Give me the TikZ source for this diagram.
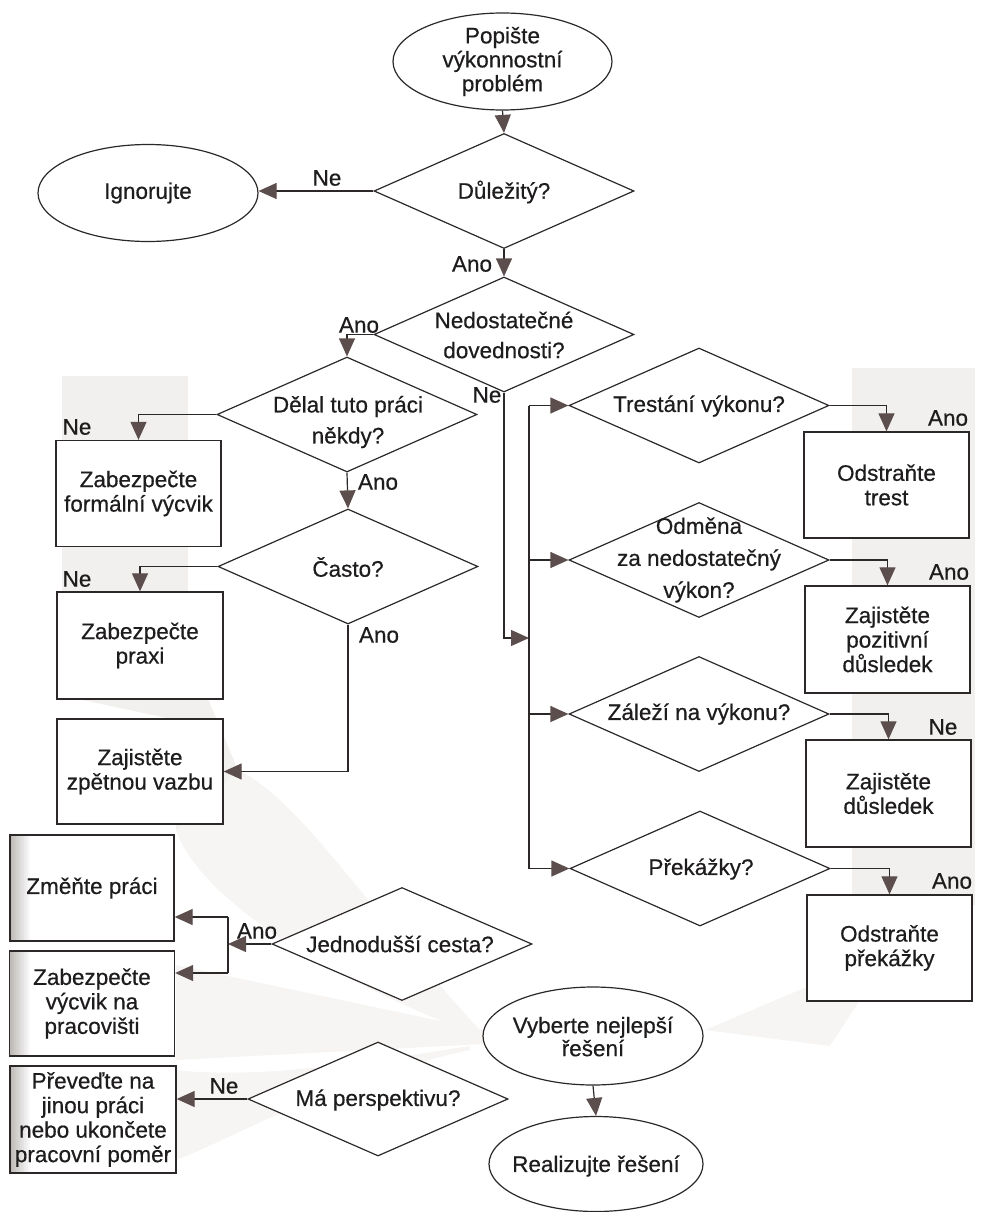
\documentclass[tikz,border=0pt]{standalone}
\usepackage{fontspec}
\setmainfont{Liberation Sans}[BoldFont=Liberation Sans, BoldFeatures={FakeBold=0.5}]
\usetikzlibrary{shapes.geometric,arrows.meta}
\definecolor{ln}{RGB}{45,40,40}
\definecolor{tx}{RGB}{30,28,28}
\definecolor{ah}{RGB}{92,78,76}
\definecolor{bg}{RGB}{241,240,238}
\definecolor{bgl}{RGB}{246,245,243}
\definecolor{gut}{RGB}{190,186,184}
\begin{document}
\begin{tikzpicture}[x=1pt,y=-1pt,
  every node/.style={text=tx},
  dia/.style={draw=ln, fill=white, line width=1.2pt, diamond, inner sep=0pt, minimum width=260pt, minimum height=115pt},
  ell/.style={draw=ln, fill=white, line width=1.2pt, ellipse, inner sep=0pt},
  box/.style={draw=ln, fill=white, line width=1.3pt, rectangle, inner sep=0pt, align=center,
              minimum width=165pt, minimum height=106pt, font=\fontsize{22.5}{24.5}\selectfont\bfseries},
  gutter/.style={path picture={\foreach \i [evaluate=\i as \p using int(100-10*\i)] in {0,...,9}
      {\fill[gut!\p!white] ([xshift={2*\i*1pt}]path picture bounding box.south west) rectangle ([xshift={2*\i*1pt+2pt}]path picture bounding box.north west);}}},
  etxt/.style={align=center, inner sep=0pt, font=\fontsize{22.5}{24}\selectfont\bfseries},
  dtxt/.style={align=center, inner sep=0pt, font=\fontsize{22.5}{31}\selectfont\bfseries},
  lbl/.style={inner sep=0pt, font=\fontsize{22.5}{24}\selectfont\bfseries},
  con/.style={draw=ln, line width=1.2pt},
  arr/.style={con, -{Triangle[length=18pt,width=16pt,fill=ah,color=ah]}},
  shadebg/.style={fill=bg, draw=none},
  shadefan/.style={fill=bgl, draw=none},
]
\useasboundingbox (0,0) rectangle (985,1212);

% ---------- faint background ----------
\path[shadebg] (62,376) rectangle (188,594);
\path[shadebg] (78,699) -- (208,699) -- (238,770) -- (238,830) -- (176,830) -- (176,720) -- cycle;
\path[shadefan] (480,1030) .. controls (360,900) and (300,800) .. (238,770) -- (176,830) .. controls (200,900) and (330,980) .. (480,1036) -- cycle;
\path[shadefan] (483,1030) -- (176,965) -- (176,1060) -- (483,1044) -- cycle;
\path[shadefan] (470,1046) .. controls (380,1060) and (260,1080) .. (176,1070) -- (176,1160) .. controls (230,1140) and (330,1080) .. (470,1050) -- cycle;
\path[shadebg] (852,368) rectangle (975,905);
\path[shadefan] (870,960) -- (705,1030) -- (830,1046) -- (860,1000) -- cycle;

% ---------- shapes ----------
\node[ell, minimum width=219pt, minimum height=97pt] (pop) at (502.5,61.5) {};
\node[etxt] (popt) at (502.5,61.5) {Popište\\výkonnostní\\problém};

\node[dia] (dul) at (504,191) {};
\node[dtxt] (dult) at (504,192) {Důležitý?};

\node[ell, minimum width=220pt, minimum height=97pt] (ign) at (148,193) {};
\node[etxt] (ignt) at (148,193) {Ignorujte};

\node[dia] (ned) at (504,334.5) {};
\node[dtxt, font=\fontsize{22.5}{30}\selectfont\bfseries] (nedt) at (504,335) {Nedostatečné\\dovednosti?};

\node[dia] (del) at (347,414.5) {};
\node[dtxt] (delt) at (348,422) {Dělal tuto práci\\někdy?};

\node[box] (zfv) at (138.5,493.5) {Zabezpečte\\formální výcvik};

\node[dia] (cas) at (348,566.5) {};
\node[dtxt] (cast) at (348,567) {Často?};

\node[box, minimum width=166pt, minimum height=107pt] (zp) at (140,645.5) {Zabezpečte\\praxi};
\node[box, minimum width=166pt, minimum height=105pt] (zzv) at (140,771.5) {Zajistěte\\zpětnou vazbu};

\node[dia] (tre) at (699,405.5) {};
\node[dtxt] (tret) at (699,406) {Trestání výkonu?};
\node[box] (odt) at (886.5,485) {Odstraňte\\trest};

\node[dia] (odm) at (699,560) {};
\node[dtxt, font=\fontsize{22.5}{32}\selectfont\bfseries] (odmt) at (699,560) {Odměna\\za nedostatečný\\výkon?};
\node[box, minimum height=107pt] (zpd) at (887.5,639.5) {Zajistěte\\pozitivní\\důsledek};

\node[dia] (zal) at (699,714) {};
\node[dtxt] (zalt) at (699,714) {Záleží na výkonu?};
\node[box, minimum height=107pt] (zd) at (888.5,793.5) {Zajistěte\\důsledek};

\node[dia] (pre) at (700,868.5) {};
\node[dtxt] (pret) at (701,869) {Překážky?};
\node[box] (opk) at (889.5,948) {Odstraňte\\překážky};

\node[box, gutter, minimum width=164pt] (zmp) at (92,888) {Změňte práci};
\node[box, gutter, minimum height=105pt] (zvp) at (92,1003.5) {Zabezpečte\\výcvik na\\pracovišti};
\node[box, gutter, minimum width=166pt, minimum height=107pt] (prv) at (93,1119.5) {Převeďte na\\jinou práci\\nebo ukončete\\pracovní poměr};

\node[dia, minimum height=113pt] (jed) at (402,944) {};
\node[dtxt] (jedt) at (400,944) {Jednodušší cesta?};

\node[dia, minimum height=114pt] (ma) at (378,1099) {};
\node[dtxt] (mat) at (378,1100) {Má perspektivu?};

\node[ell, minimum width=220pt, minimum height=98pt] (vyb) at (593,1036) {};
\node[etxt, font=\fontsize{22.5}{23}\selectfont\bfseries] (vybt) at (593,1036.5) {Vyberte nejlepší\\řešení};
\node[ell, minimum width=214pt, minimum height=95pt] (real) at (596,1164) {};
\node[etxt] (realt) at (596,1166) {Realizujte řešení};

% ---------- labels ----------
\node[lbl] (l1) at (327,178) {Ne};
\node[lbl] (l2) at (472,264) {Ano};
\node[lbl] (l3) at (359,325) {Ano};
\node[lbl] (l4) at (487,395) {Ne};
\node[lbl] (l5) at (77,427) {Ne};
\node[lbl] (l6) at (378,482) {Ano};
\node[lbl] (l7) at (77,579) {Ne};
\node[lbl] (l8) at (379,635) {Ano};
\node[lbl] (l9) at (948,418) {Ano};
\node[lbl] (l10) at (949,572) {Ano};
\node[lbl] (l11) at (943,727) {Ne};
\node[lbl] (l12) at (952,881) {Ano};
\node[lbl] (l13) at (257,931) {Ano};
\node[lbl] (l14) at (224,1086) {Ne};

% ---------- connectors ----------
\draw[arr] (pop.south) -- (dul.north);
\draw[arr] (dul.west) -- (dul.west -| ign.east);
\draw[arr] (dul.south) -- (ned.north);
\draw[arr] (ned.west) -| (del.north);
\draw[arr] (del.west) -| (zfv.north);
\draw[arr] (del.south) -- (cas.north);
\draw[arr] (cas.west) -| (zp.north);
\draw[arr] (cas.south) |- (zzv.east);

\coordinate (tin) at (529,638);
\coordinate (ttop) at (529,405.5);
\coordinate (tbot) at (529,868.5);
\draw[arr] (ned.south) |- (tin);
\draw[con] (ttop) -- (tbot);
\draw[arr] (ttop) -- (tre.west);
\draw[arr] (odm.west -| ttop) -- (odm.west);
\draw[arr] (zal.west -| ttop) -- (zal.west);
\draw[arr] (tbot) -- (pre.west);

\draw[arr] (tre.east) -| (odt.north);
\draw[arr] (odm.east) -| (zpd.north);
\draw[arr] (zal.east) -| (zd.north);
\draw[arr] (pre.east) -| (opk.north);

\coordinate (br) at (228,944);
\coordinate (brt) at (228,917);
\coordinate (brb) at (228,973);
\draw[arr] (jed.west) -- (br);
\draw[con] (brt) -- (brb);
\draw[arr] (brt) -- (brt -| zmp.east);
\draw[arr] (brb) -- (brb -| zvp.east);

\draw[arr] (ma.west) -- (ma.west -| prv.east);
\draw[arr] (vyb.south) -- (real.north);
\end{tikzpicture}
\end{document}
